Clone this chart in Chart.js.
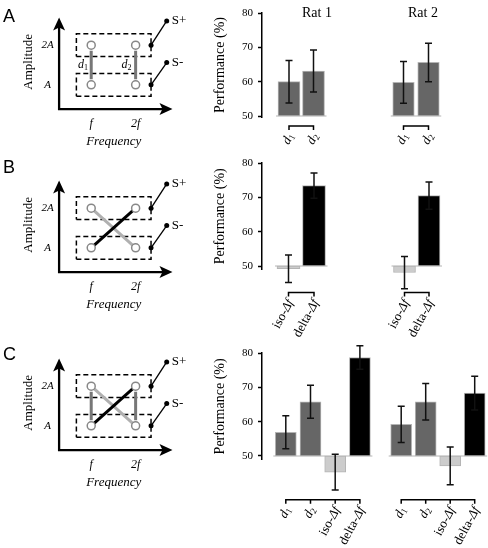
<!DOCTYPE html>
<html>
<head>
<meta charset="utf-8">
<title>Performance</title>
<script src="https://cdn.jsdelivr.net/npm/chart.js@4.4.1/dist/chart.umd.min.js"></script>
<style>
body { margin: 0; background: #fff; }
#fig { position: relative; width: 488px; height: 548px; overflow: hidden; background: #fff; }
#fig canvas { position: absolute; }
.letter { position: absolute; left: 3px; font: 18px/1 "Liberation Sans", Arial, sans-serif; }
.rat { position: absolute; top: 6px; width: 60px; text-align: center; font: 14px/1 "Liberation Serif", "Times New Roman", serif; }
</style>
</head>
<body>
<div id="fig">
  <canvas id="skA"></canvas>
  <canvas id="skB"></canvas>
  <canvas id="skC"></canvas>
  <canvas id="a1"></canvas><canvas id="a2"></canvas>
  <canvas id="b1"></canvas><canvas id="b2"></canvas>
  <canvas id="c1"></canvas><canvas id="c2"></canvas>
  <div class="letter" style="top:7px">A</div>
  <div class="letter" style="top:158px">B</div>
  <div class="letter" style="top:345px">C</div>
  <div class="rat" style="left:287px">Rat 1</div>
  <div class="rat" style="left:393px">Rat 2</div>
</div>
<script>
var SERIF = '"Liberation Serif", "Times New Roman", serif';
Chart.defaults.font.family = SERIF;
Chart.defaults.color = '#000';
Chart.defaults.animation = false;
Chart.defaults.plugins.legend.display = false;
Chart.defaults.plugins.tooltip.enabled = false;

// ---- donnees ----
var yTicks = [50, 60, 70, 80];
var chance = 50;

var catsA = ['d1', 'd2'];
var catsB = ['iso-Δf', 'delta-Δf'];
var catsC = ['d1', 'd2', 'iso-Δf', 'delta-Δf'];

var perfA_rat1 = [60.0, 63.1];
var semA_rat1 = [6.2, 6.1];
var perfA_rat2 = [59.8, 65.6];
var semA_rat2 = [6.1, 5.6];

var perfB_rat1 = [49.2, 73.4];
var semB_rat1 = [4.0, 3.7];
var perfB_rat2 = [48.1, 70.5];
var semB_rat2 = [4.7, 4.0];

var perfC_rat1 = [56.9, 65.8, 45.3, 78.7];
var semC_rat1 = [4.8, 4.8, 5.2, 3.4];
var perfC_rat2 = [59.2, 65.8, 47.1, 68.3];
var semC_rat2 = [5.3, 5.3, 5.5, 4.9];

// schema : frequences f, 2f et amplitudes A, 2A
var stimFreq = [1, 2];
var stimAmp = [1, 2];
var freqLabels = ['f', '2f'];
var ampLabels = ['A', '2A'];
var sLabels = ['S-', 'S+'];

// ---- mise en page ----
var PX_PER_PCT = 103 / 30;
var ROW_TOP = [13, 163, 353];
var SK = { axX: 0.277, axY: 0.39, tipX: 2.83, tipY: 2.70, boxX0: 0.666, boxX1: 2.347, boxH: 0.285, sX: 2.70, sY: [1.56, 2.61] };
var LABEL_ANGLE = 62 * Math.PI / 180;

function catColor(c) {
  if (/^d\d$/.test(c)) return '#666666';
  if (c.indexOf('iso') === 0) return '#cccccc';
  return '#000000';
}

function drawRich(ctx, parts) {
  var w = 0;
  parts.forEach(function (p) { ctx.font = p.f; p.w = ctx.measureText(p.t).width; w += p.w; });
  return w;
}

function labelParts(label, size) {
  var m = label.match(/^d(\d)$/);
  if (m) return [{ t: 'd', f: 'italic ' + size + 'px ' + SERIF, dy: 0 }, { t: m[1], f: Math.round(size * 0.68) + 'px ' + SERIF, dy: 3 }];
  var k = label.indexOf('Δf');
  return [{ t: label.slice(0, k), f: size + 'px ' + SERIF, dy: 0 }, { t: 'Δf', f: 'italic ' + size + 'px ' + SERIF, dy: 0 }];
}

function drawCatLabel(ctx, label, x, y) {
  var parts = labelParts(label, 13);
  ctx.save();
  ctx.translate(x, y);
  ctx.rotate(-LABEL_ANGLE);
  var w = drawRich(ctx, parts);
  var cx = -w;
  ctx.textAlign = 'left';
  ctx.textBaseline = 'middle';
  ctx.fillStyle = '#000';
  parts.forEach(function (p) { ctx.font = p.f; ctx.fillText(p.t, cx, p.dy); cx += p.w; });
  ctx.restore();
}

var errBarsPlugin = {
  id: 'errBars',
  beforeDatasetsDraw: function (chart, args, opts) {
    // ligne de base a 50 %
    var x = chart.scales.x, y = chart.scales.y, ctx = chart.ctx;
    var n = chart.data.datasets[0].data.length;
    var yb = y.getPixelForValue(chance);
    ctx.save();
    ctx.strokeStyle = '#b4b4b4';
    ctx.lineWidth = 1;
    ctx.beginPath();
    ctx.moveTo(x.getPixelForValue(0) - opts.thick / 2 - 2, yb);
    ctx.lineTo(x.getPixelForValue(n - 1) + opts.thick / 2 + 2, yb);
    ctx.stroke();
    ctx.restore();
  },
  afterDatasetsDraw: function (chart, args, opts) {
    var x = chart.scales.x, y = chart.scales.y, ctx = chart.ctx;
    ctx.save();
    ctx.strokeStyle = '#111';
    ctx.lineWidth = 1.5;
    ctx.beginPath();
    chart.data.datasets[0].data.forEach(function (d, i) {
      var px = x.getPixelForValue(d.x), v = d.y[1], e = opts.errs[i];
      var y1 = y.getPixelForValue(v + e), y2 = y.getPixelForValue(v - e);
      ctx.moveTo(px, y1); ctx.lineTo(px, y2);
      ctx.moveTo(px - 3.5, y1); ctx.lineTo(px + 3.5, y1);
      ctx.moveTo(px - 3.5, y2); ctx.lineTo(px + 3.5, y2);
    });
    ctx.stroke();
    ctx.restore();
  }
};

var catAxisPlugin = {
  id: 'catAxis',
  afterDraw: function (chart, args, opts) {
    var x = chart.scales.x, ctx = chart.ctx;
    var yA = chart.chartArea.bottom + opts.drop;
    var xs = opts.cats.map(function (c, i) { return x.getPixelForValue(i); });
    ctx.save();
    ctx.strokeStyle = '#000';
    ctx.lineWidth = 1.5;
    ctx.beginPath();
    ctx.moveTo(xs[0] - 0.75, yA);
    ctx.lineTo(xs[xs.length - 1] + 0.75, yA);
    xs.forEach(function (px) { ctx.moveTo(px, yA); ctx.lineTo(px, yA + 4); });
    ctx.stroke();
    xs.forEach(function (px, i) { drawCatLabel(ctx, opts.cats[i], px + 2, yA + 8); });
    ctx.restore();
  }
};

function barChart(id, o) {
  var cv = document.getElementById(id);
  var top = ROW_TOP[o.row] - 13;
  var yMax = yTicks[yTicks.length - 1];
  var areaBottom = ROW_TOP[o.row] + (yMax - o.yMin) * PX_PER_PCT;
  var areaLeft = o.showY ? 262 : o.left;
  var areaW = o.left + o.width - areaLeft;
  var xMin = (areaLeft - o.first) / o.step;
  cv.width = o.width;
  cv.height = o.height;
  cv.style.left = o.left + 'px';
  cv.style.top = top + 'px';
  return new Chart(cv, {
    type: 'bar',
    data: {
      labels: o.cats,
      datasets: [{
        data: o.values.map(function (v, i) { return { x: i, y: [chance, v] }; }),
        backgroundColor: o.cats.map(catColor),
        borderColor: '#b4b4b4',
        borderWidth: 1,
        borderSkipped: false,
        barThickness: o.thick,
        clip: false
      }]
    },
    options: {
      responsive: false,
      devicePixelRatio: 1,
      layout: { padding: { top: 13, bottom: top + o.height - areaBottom, left: o.showY ? 7.6 : 0, right: 0 } },
      scales: {
        x: { type: 'linear', display: false, offset: false, min: xMin, max: xMin + areaW / o.step },
        y: {
          display: o.showY,
          min: o.yMin,
          max: yMax,
          afterBuildTicks: function (s) { s.ticks = yTicks.map(function (v) { return { value: v }; }); },
          afterFit: function (s) { s.width = 262 - o.left - 7.6; },
          ticks: { padding: 5, font: { family: SERIF, size: 11, weight: 'normal' }, color: '#000' },
          grid: { drawOnChartArea: false, tickLength: 4, tickWidth: 1.5, tickColor: '#000' },
          border: { display: true, color: '#000', width: 1.5 },
          title: { display: true, text: 'Performance (%)', font: { family: SERIF, size: 14, weight: 'normal' }, color: '#000', padding: { top: 4, bottom: 4 } }
        }
      },
      plugins: {
        errBars: { errs: o.errs, thick: o.thick },
        catAxis: { cats: o.cats, drop: o.drop }
      }
    },
    plugins: [errBarsPlugin, catAxisPlugin]
  });
}

// ---- schemas ----
var arrowsPlugin = {
  id: 'arrows',
  afterDatasetsDraw: function (chart) {
    var x = chart.scales.x, y = chart.scales.y, ctx = chart.ctx;
    var ax = x.getPixelForValue(SK.axX), ay = y.getPixelForValue(SK.axY);
    var tx = x.getPixelForValue(SK.tipX), ty = y.getPixelForValue(SK.tipY);
    ctx.save();
    ctx.fillStyle = '#000';
    ctx.beginPath();
    ctx.moveTo(ax, ty); ctx.lineTo(ax - 6, ty + 13); ctx.lineTo(ax, ty + 10); ctx.lineTo(ax + 6, ty + 13); ctx.closePath();
    ctx.moveTo(tx, ay); ctx.lineTo(tx - 13, ay - 6); ctx.lineTo(tx - 10, ay); ctx.lineTo(tx - 13, ay + 6); ctx.closePath();
    ctx.fill();
    ctx.restore();
  }
};

var skLabelsPlugin = {
  id: 'skLabels',
  afterDraw: function (chart, args, opts) {
    var ctx = chart.ctx, x = chart.scales.x, y = chart.scales.y;
    function txt(s, dx, dy, font, align) {
      ctx.font = font;
      ctx.textAlign = align || 'center';
      ctx.fillText(s, x.getPixelForValue(dx), y.getPixelForValue(dy));
    }
    ctx.save();
    ctx.fillStyle = '#000';
    ctx.textBaseline = 'middle';
    ampLabels.forEach(function (l, i) { txt(l, 0.017, stimAmp[i], 'italic 11px ' + SERIF); });
    freqLabels.forEach(function (l, i) { txt(l, stimFreq[i], 0.026, 'italic 12px ' + SERIF); });
    txt('Frequency', 1.506, -0.42, 'italic 13px ' + SERIF);
    sLabels.forEach(function (l, i) { txt(l, 2.815, SK.sY[i], '13px ' + SERIF, 'left'); });
    if (opts.showD) {
      [0.815, 1.794].forEach(function (dx, i) {
        var parts = labelParts('d' + (i + 1), 12);
        var w = drawRich(ctx, parts);
        var cx = x.getPixelForValue(dx) - w / 2, cy = y.getPixelForValue(1.5);
        ctx.textAlign = 'left';
        parts.forEach(function (p) { ctx.font = p.f; ctx.fillText(p.t, cx, cy + p.dy); cx += p.w; });
      });
    }
    ctx.translate(x.getPixelForValue(-0.42), y.getPixelForValue(1.58));
    ctx.rotate(-Math.PI / 2);
    ctx.font = '13px ' + SERIF;
    ctx.textAlign = 'center';
    ctx.fillText('Amplitude', 0, 0);
    ctx.restore();
  }
};

function line(data, color, width, dash) {
  return { data: data, showLine: true, borderColor: color, borderWidth: width, borderDash: dash || [], pointRadius: 0, fill: false };
}

function schematic(id, top, pairs, showD) {
  var cv = document.getElementById(id);
  cv.width = 200;
  cv.height = 155;
  cv.style.left = '0px';
  cv.style.top = top + 'px';
  var f0 = stimFreq[0], f1 = stimFreq[1], a0 = stimAmp[0], a1 = stimAmp[1];
  var pts = [];
  stimFreq.forEach(function (f) { stimAmp.forEach(function (a) { pts.push({ x: f, y: a }); }); });
  var ds = [{ data: pts, showLine: false, pointRadius: 4, pointBackgroundColor: '#fff', pointBorderColor: '#888', pointBorderWidth: 1.5 }];
  var pairLines = {
    delta: line([{ x: f0, y: a0 }, { x: f1, y: a1 }], '#000', 3),
    iso: line([{ x: f0, y: a1 }, { x: f1, y: a0 }], '#b0b0b0', 3),
    d1: line([{ x: f0, y: a0 + 0.14 }, { x: f0, y: a1 - 0.14 }], '#777', 3),
    d2: line([{ x: f1, y: a0 + 0.14 }, { x: f1, y: a1 - 0.14 }], '#777', 3)
  };
  pairs.forEach(function (p) { ds.push(pairLines[p]); });
  stimAmp.forEach(function (a, i) {
    var s = line([{ x: SK.boxX1, y: a }, { x: SK.sX, y: SK.sY[i] }], '#000', 1.3);
    s.pointRadius = 2.5;
    s.pointBackgroundColor = '#000';
    s.pointBorderWidth = 0;
    ds.push(s);
  });
  stimAmp.forEach(function (a) {
    ds.push(line([
      { x: SK.boxX0, y: a - SK.boxH }, { x: SK.boxX1, y: a - SK.boxH },
      { x: SK.boxX1, y: a + SK.boxH }, { x: SK.boxX0, y: a + SK.boxH },
      { x: SK.boxX0, y: a - SK.boxH }
    ], '#000', 1.5, [5, 3]));
  });
  ds.push(line([{ x: SK.axX, y: SK.tipY - 0.15 }, { x: SK.axX, y: SK.axY }, { x: SK.tipX - 0.15, y: SK.axY }], '#000', 2.3));
  return new Chart(cv, {
    type: 'scatter',
    data: { datasets: ds },
    options: {
      responsive: false,
      devicePixelRatio: 1,
      layout: { padding: 0 },
      scales: {
        x: { type: 'linear', display: false, min: -0.9298, max: 3.3255 },
        y: { type: 'linear', display: false, min: 3 - 155 / 42.7, max: 3 }
      },
      plugins: { skLabels: { showD: showD } }
    },
    plugins: [arrowsPlugin, skLabelsPlugin]
  });
}

schematic('skA', 0, ['d1', 'd2'], true);
schematic('skB', 163, ['delta', 'iso'], false);
schematic('skC', 341, ['delta', 'iso', 'd1', 'd2'], false);

barChart('a1', { row: 0, left: 200, width: 180, height: 150, yMin: 49.7, showY: true, cats: catsA, values: perfA_rat1, errs: semA_rat1, first: 289, step: 24.5, thick: 22, drop: 9 });
barChart('a2', { row: 0, left: 382, width: 106, height: 150, yMin: 49.7, showY: false, cats: catsA, values: perfA_rat2, errs: semA_rat2, first: 403.5, step: 25, thick: 21.5, drop: 9 });
barChart('b1', { row: 1, left: 200, width: 180, height: 190, yMin: 49, showY: true, cats: catsB, values: perfB_rat1, errs: semB_rat1, first: 288.5, step: 25.5, thick: 23, drop: 23 });
barChart('b2', { row: 1, left: 382, width: 106, height: 190, yMin: 49, showY: false, cats: catsB, values: perfB_rat2, errs: semB_rat2, first: 404.5, step: 24.5, thick: 22, drop: 23 });
barChart('c1', { row: 2, left: 200, width: 180, height: 208, yMin: 48.9, showY: true, cats: catsC, values: perfC_rat1, errs: semC_rat1, first: 285.8, step: 24.7, thick: 21, drop: 40 });
barChart('c2', { row: 2, left: 382, width: 106, height: 208, yMin: 48.9, showY: false, cats: catsC, values: perfC_rat2, errs: semC_rat2, first: 401.2, step: 24.5, thick: 21, drop: 40 });
</script>
</body>
</html>
